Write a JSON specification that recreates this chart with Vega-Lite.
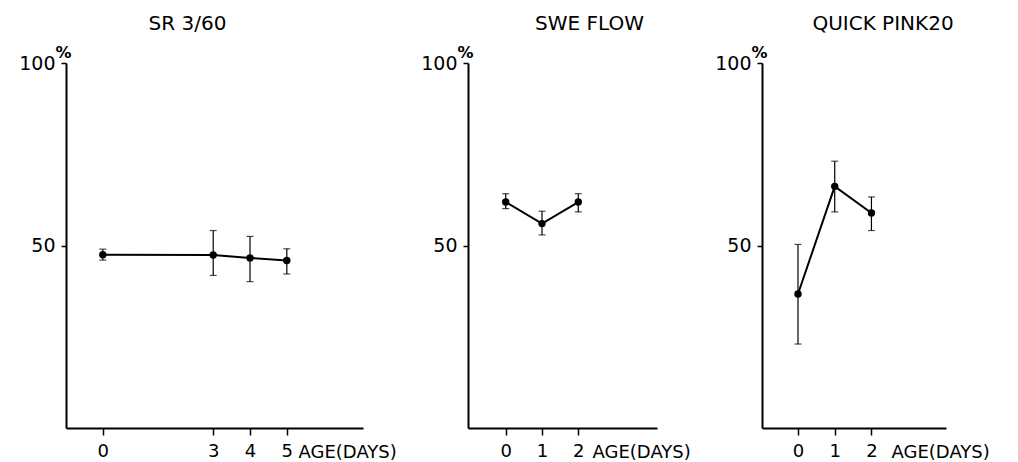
{
  "$schema": "https://vega.github.io/schema/vega-lite/v6.json",
  "background": "white",
  "padding": {"left": 18, "top": 14, "right": 5, "bottom": 0},
  "spacing": 105,
  "bounds": "flush",
  "datasets": {
    "d": [
      {"panel": "SR 3/60", "day": 0, "value": 47.5, "lo": 46.0, "hi": 49.0},
      {"panel": "SR 3/60", "day": 3, "value": 47.4, "lo": 41.8, "hi": 54.1},
      {"panel": "SR 3/60", "day": 4, "value": 46.6, "lo": 40.1, "hi": 52.5},
      {"panel": "SR 3/60", "day": 5, "value": 45.9, "lo": 42.2, "hi": 49.1},
      {"panel": "SWE FLOW", "day": 0, "value": 61.9, "lo": 60.1, "hi": 64.2},
      {"panel": "SWE FLOW", "day": 1, "value": 56.0, "lo": 52.9, "hi": 59.4},
      {"panel": "SWE FLOW", "day": 2, "value": 61.9, "lo": 59.2, "hi": 64.2},
      {"panel": "QUICK PINK20", "day": 0, "value": 36.7, "lo": 23.0, "hi": 50.3},
      {"panel": "QUICK PINK20", "day": 1, "value": 66.2, "lo": 59.2, "hi": 73.1},
      {"panel": "QUICK PINK20", "day": 2, "value": 58.9, "lo": 54.1, "hi": 63.3}
    ]
  },
  "config": {
    "view": {"stroke": null},
    "axis": {
      "grid": false,
      "domainColor": "black",
      "domainWidth": 2,
      "tickColor": "black",
      "tickWidth": 1.5,
      "labelColor": "black",
      "labelFont": "DejaVu Sans",
      "labelFontSize": 19,
      "titleFont": "DejaVu Sans",
      "titleFontWeight": "normal",
      "titleColor": "black"
    },
    "title": {"font": "DejaVu Sans", "fontSize": 20, "fontWeight": "normal", "color": "black", "offset": 10}
  },
  "hconcat": [
    {
      "width": 297, "height": 365,
      "title": {"text": "SR 3/60", "dx": -27},
      "data": {"name": "d"},
      "transform": [{"filter": "datum.panel === 'SR 3/60'"}],
      "encoding": {
        "x": {"field": "day", "type": "quantitative", "scale": {"domain": [-1, 7.07], "nice": false, "zero": false},
          "axis": {"values": [0, 3, 4, 5], "tickSize": 7, "labelPadding": 7, "labelFontSize": 18, "title": "AGE(DAYS)", "titleFontSize": 18, "titleX": 232, "titleY": 29, "titleAlign": "left", "titleBaseline": "alphabetic"}},
        "y": {"field": "value", "type": "quantitative", "scale": {"domain": [0, 100], "nice": false},
          "axis": {"values": [50, 100], "tickSize": 5, "labelPadding": 6, "title": "%", "titleFontSize": 16, "titleFontWeight": "bold", "titleAngle": 0, "titleX": -3, "titleY": -6, "titleAlign": "center", "titleBaseline": "alphabetic"}}
      },
      "layer": [
        {"mark": {"type": "errorbar", "color": "black", "thickness": 1.2, "ticks": {"size": 7, "thickness": 1.2, "color": "black"}},
         "encoding": {"y": {"field": "lo", "type": "quantitative"}, "y2": {"field": "hi"}}},
        {"mark": {"type": "line", "color": "black", "strokeWidth": 2, "point": {"filled": true, "color": "black", "size": 55}}}
      ]
    },
    {
      "width": 189, "height": 365,
      "title": {"text": "SWE FLOW", "dx": 27},
      "data": {"name": "d"},
      "transform": [{"filter": "datum.panel === 'SWE FLOW'"}],
      "encoding": {
        "x": {"field": "day", "type": "quantitative", "scale": {"domain": [-1.04, 4.17], "nice": false, "zero": false},
          "axis": {"values": [0, 1, 2], "tickSize": 7, "labelPadding": 7, "labelFontSize": 18, "title": "AGE(DAYS)", "titleFontSize": 18, "titleX": 124, "titleY": 29, "titleAlign": "left", "titleBaseline": "alphabetic"}},
        "y": {"field": "value", "type": "quantitative", "scale": {"domain": [0, 100], "nice": false},
          "axis": {"values": [50, 100], "tickSize": 5, "labelPadding": 6, "title": "%", "titleFontSize": 16, "titleFontWeight": "bold", "titleAngle": 0, "titleX": -3, "titleY": -6, "titleAlign": "center", "titleBaseline": "alphabetic"}}
      },
      "layer": [
        {"mark": {"type": "errorbar", "color": "black", "thickness": 1.2, "ticks": {"size": 7, "thickness": 1.2, "color": "black"}},
         "encoding": {"y": {"field": "lo", "type": "quantitative"}, "y2": {"field": "hi"}}},
        {"mark": {"type": "line", "color": "black", "strokeWidth": 2, "point": {"filled": true, "color": "black", "size": 55}}}
      ]
    },
    {
      "width": 184, "height": 365,
      "title": {"text": "QUICK PINK20", "dx": 29},
      "data": {"name": "d"},
      "transform": [{"filter": "datum.panel === 'QUICK PINK20'"}],
      "encoding": {
        "x": {"field": "day", "type": "quantitative", "scale": {"domain": [-0.98, 4.03], "nice": false, "zero": false},
          "axis": {"values": [0, 1, 2], "tickSize": 7, "labelPadding": 7, "labelFontSize": 18, "title": "AGE(DAYS)", "titleFontSize": 18, "titleX": 129, "titleY": 29, "titleAlign": "left", "titleBaseline": "alphabetic"}},
        "y": {"field": "value", "type": "quantitative", "scale": {"domain": [0, 100], "nice": false},
          "axis": {"values": [50, 100], "tickSize": 5, "labelPadding": 6, "title": "%", "titleFontSize": 16, "titleFontWeight": "bold", "titleAngle": 0, "titleX": -3, "titleY": -6, "titleAlign": "center", "titleBaseline": "alphabetic"}}
      },
      "layer": [
        {"mark": {"type": "errorbar", "color": "black", "thickness": 1.2, "ticks": {"size": 7, "thickness": 1.2, "color": "black"}},
         "encoding": {"y": {"field": "lo", "type": "quantitative"}, "y2": {"field": "hi"}}},
        {"mark": {"type": "line", "color": "black", "strokeWidth": 2, "point": {"filled": true, "color": "black", "size": 55}}}
      ]
    }
  ]
}
